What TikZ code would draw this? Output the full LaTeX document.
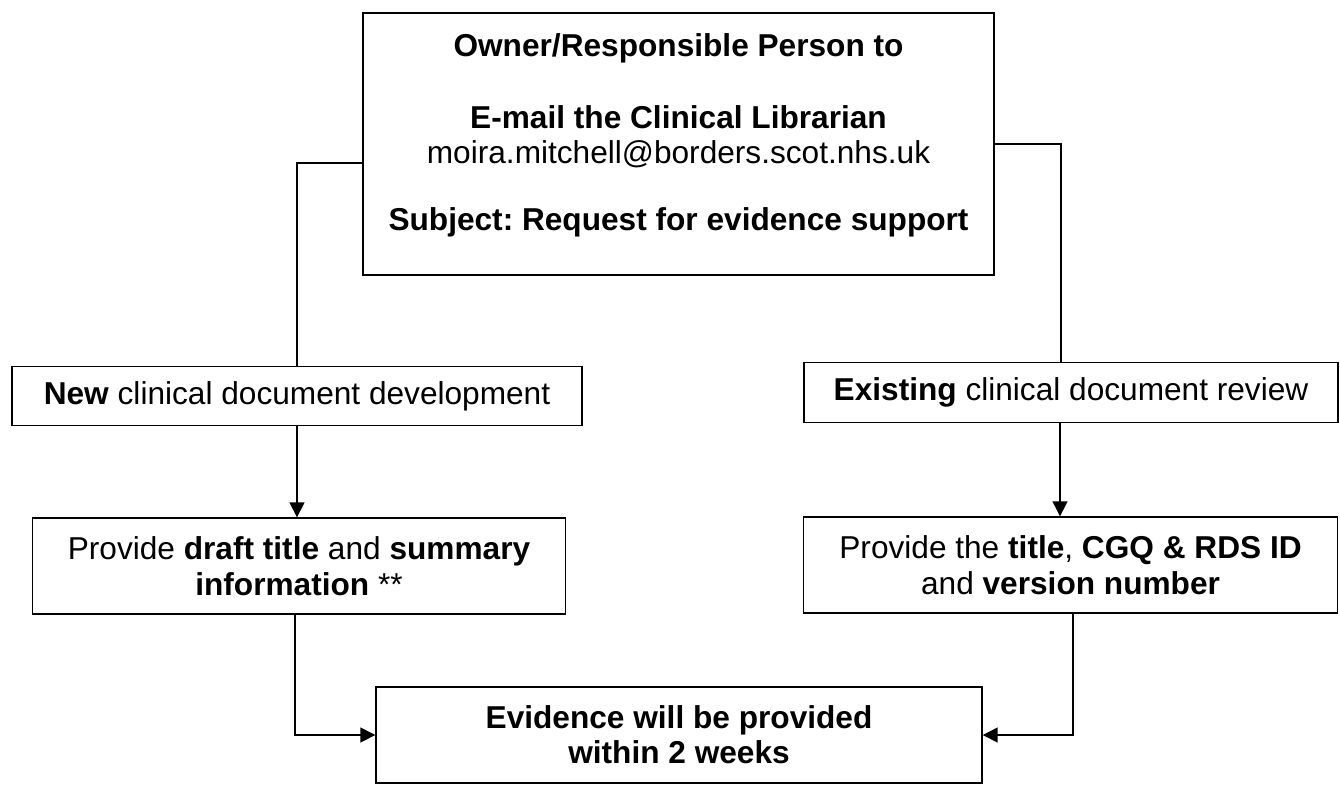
\documentclass[tikz,border=0pt]{standalone}
\usepackage{fontspec}
\setmainfont{Liberation Sans}
\frenchspacing
\usepackage{tikz}
\usetikzlibrary{positioning, arrows.meta}

\begin{document}
\begin{tikzpicture}[
    font=\fontsize{18}{19.8}\selectfont,
    base/.style={draw=black, line width=0.8pt, align=center, inner sep=0pt},
    request/.style={base, minimum width=12.62cm, minimum height=5.24cm},
    route/.style={base, minimum height=1.19cm},
    task/.style={base, minimum width=10.67cm, minimum height=1.92cm},
    result/.style={base, minimum width=12.12cm, minimum height=1.92cm},
    line/.style={-{Triangle[length=8.5pt, width=8.5pt]}, line width=0.8pt, draw=black},
    link/.style={line width=0.8pt, draw=black},
  ]
  \useasboundingbox (0,0) rectangle (26.8,-15.84);
  % ---- request ----
  \node[request] (req) at (13.57,-2.88)
    {\textbf{Owner/Responsible Person to}\\[21.6pt]
     \textbf{E-mail the Clinical Librarian}\\
     moira.mitchell@borders.scot.nhs.uk\\[18.2pt]
     \textbf{Subject: Request for evidence support}\\[-6pt]\mbox{}};
  % ---- routes ----
  \node[route, minimum width=11.40cm] (new)   at (5.94,-7.92)
    {\textbf{New} clinical document development};
  \node[route, minimum width=10.68cm] (exist) at (21.42,-7.85)
    {\textbf{Existing} clinical document review};
  % ---- what to provide ----
  \node[task] (draft) at (5.98,-11.32)
    {Provide \textbf{draft title} and \textbf{summary}\\[0.6pt]
     \textbf{information} **};
  \node[task] (vers)  at (21.41,-11.30)
    {Provide the \textbf{title}, \textbf{CGQ \& RDS ID}\\[0.6pt]
     and \textbf{version number}};
  % ---- outcome ----
  \node[result] (evid) at (13.58,-14.70)
    {\textbf{Evidence will be provided}\\\textbf{within 2 weeks}};
  % ---- connectors ----
  \draw[link] ([yshift=-3.8mm]req.west) -| (new.north);
  \draw[link] (req.east) -| ([xshift=-2mm]exist.north);
  \draw[line] (new.south) -- (new.south |- draft.north);
  \draw[line] ([xshift=-2.2mm]exist.south) -- ([xshift=-2.2mm]exist.south |- vers.north);
  \draw[line] ([xshift=-0.8mm]draft.south) |- (evid.west);
  \draw[line] ([xshift=0.5mm]vers.south) |- (evid.east);
\end{tikzpicture}
\end{document}
